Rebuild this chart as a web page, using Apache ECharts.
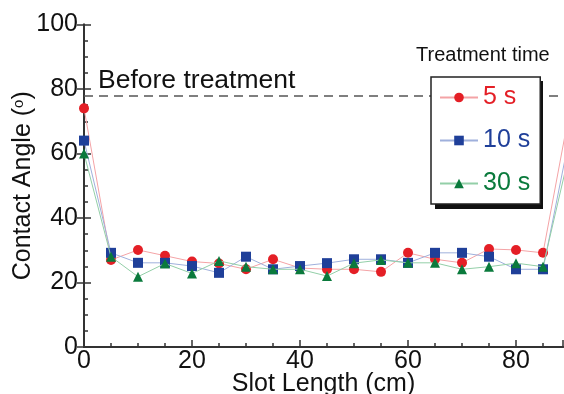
<!DOCTYPE html>
<html>
<head>
<meta charset="utf-8">
<script src="https://cdn.jsdelivr.net/npm/echarts@6/dist/echarts.min.js"></script>
<style>
  html, body { margin: 0; padding: 0; background: #fff; }
  #chart { width: 564px; height: 394px; }
</style>
</head>
<body>
<div id="chart"></div>
<script>
// Slot positions (cm) where the contact angle was measured
const slotLength = [0, 5, 10, 15, 20, 25, 30, 35, 40, 45, 50, 55, 60, 65, 70, 75, 80, 85, 90];
// Contact angle (deg) for each treatment time
const angle5s  = [74, 27.0, 30.1, 28.3, 26.5, 25.9, 24.1, 27.2, 24.5, 24.1, 24.1, 23.3, 29.2, 27.2, 26.1, 30.4, 30.1, 29.2, 74];
const angle10s = [64, 29.2, 26.1, 26.1, 25.1, 23.0, 28.0, 24.1, 25.1, 26.0, 27.2, 27.2, 26.1, 29.2, 29.2, 28.0, 24.1, 24.1, 66];
const angle30s = [60, 28.0, 21.8, 25.9, 22.8, 26.7, 24.9, 24.1, 24.1, 22.0, 26.0, 27.0, 26.1, 26.1, 24.1, 24.9, 26.0, 24.9, 61];
// Untreated reference angle
const beforeTreatment = 78;
const seriesNames = ['5 s', '10 s', '30 s'];
const xTicks = [0, 20, 40, 60, 80];
const yTicks = [0, 20, 40, 60, 80, 100];

const FONT = '"Liberation Sans", Arial, sans-serif';
const colors = ['#e41f26', '#1f3f99', '#0a7a3c'];
const lineColors = ['#f4a3a6', '#9fb0dc', '#93cfa8'];

function pairs(ys) { return slotLength.map((x, i) => [x, ys[i]]); }

const chart = echarts.init(document.getElementById('chart'), null, { renderer: 'canvas' });

const axisLine = { show: true, lineStyle: { color: '#333', width: 2 } };
const tickStyle = { color: '#333', width: 1.5 };

// Legend box geometry (shared by the legend and its drop shadow)
const LEG = { x: 431, y: 77, w: 108, h: 128 };

const option = {
  animation: false,
  textStyle: { fontFamily: FONT },
  grid: { left: 84, top: 24.5, width: 479, height: 322.5, containLabel: false, outerBoundsMode: 'none' },
  xAxis: [{
    type: 'value', min: 0, max: 88.7, interval: 20,
    name: 'Slot Length (cm)', nameLocation: 'middle', nameGap: 25, nameMoveOverlap: false,
    nameTextStyle: { fontSize: 25, color: '#111', fontFamily: FONT },
    axisLine: axisLine,
    axisTick: { show: true, inside: true, length: 7, lineStyle: tickStyle },
    minorTick: { show: true, splitNumber: 4, length: 4, lineStyle: tickStyle },
    axisLabel: {
      fontSize: 25, color: '#111', margin: 2, showMaxLabel: false, fontFamily: FONT,
      formatter: v => xTicks.includes(v) ? String(v) : ''
    },
    splitLine: { show: false }
  }, {
    type: 'value', position: 'top', min: 0, max: 88.7, interval: 20,
    axisLine: axisLine, axisTick: { show: false }, axisLabel: { show: false }, splitLine: { show: false }
  }],
  yAxis: [{
    type: 'value', min: 0, max: 100, interval: 20,
    name: 'Contact Angle ({sup|o})', nameLocation: 'middle', nameGap: 48, nameRotate: 90, nameMoveOverlap: false,
    nameTextStyle: {
      fontSize: 25, color: '#111', fontFamily: FONT,
      rich: { sup: { fontSize: 15, color: '#111', verticalAlign: 'top', padding: [0, 0, 8, 0], fontFamily: FONT } }
    },
    axisLine: axisLine,
    axisTick: { show: true, inside: true, length: 7, lineStyle: tickStyle },
    minorTick: { show: true, splitNumber: 4, length: 4, lineStyle: tickStyle },
    axisLabel: {
      fontSize: 25, color: '#111', margin: 6, fontFamily: FONT,
      formatter: v => yTicks.includes(v) ? String(v) : ''
    },
    splitLine: { show: false }
  }, {
    type: 'value', position: 'right', min: 0, max: 100, interval: 20,
    axisLine: axisLine,
    axisTick: { show: true, inside: true, length: 7, lineStyle: tickStyle },
    axisLabel: { show: false }, splitLine: { show: false }
  }],
  legend: {
    orient: 'vertical', left: LEG.x, top: LEG.y,
    data: seriesNames.map((n, i) => ({ name: n, textStyle: { color: colors[i] } })),
    itemWidth: 38, itemHeight: 12, itemGap: 18,
    padding: [8, 10, 8, 8],
    backgroundColor: '#fff', borderColor: '#222', borderWidth: 1.5,
    textStyle: { fontSize: 25, fontFamily: FONT },
    z: 10
  },
  graphic: [{
    // drop shadow behind the legend box
    type: 'rect', z: 9,
    shape: { x: LEG.x + 4, y: LEG.y + 4, width: LEG.w, height: LEG.h },
    style: { fill: '#111' }
  }, {
    type: 'text', left: 416, top: 45, z: 10,
    style: { text: 'Treatment time', fontSize: 20, fill: '#111', fontFamily: FONT }
  }],
  series: [
    {
      name: seriesNames[0], type: 'line', data: pairs(angle5s),
      symbol: 'circle', symbolSize: 10, clip: true, z: 3,
      itemStyle: { color: colors[0] },
      lineStyle: { color: lineColors[0], width: 1 },
      markLine: {
        silent: true, symbol: 'none', animation: false,
        lineStyle: { color: '#555', width: 1.5, type: [9, 6] },
        label: {
          show: true, position: 'insideStartTop', formatter: 'Before treatment',
          fontSize: 26.5, color: '#111', fontFamily: FONT, distance: [14, 1]
        },
        data: [{ yAxis: beforeTreatment }]
      }
    },
    {
      name: seriesNames[1], type: 'line', data: pairs(angle10s),
      symbol: 'rect', symbolSize: 10, clip: true, z: 4,
      itemStyle: { color: colors[1] },
      lineStyle: { color: lineColors[1], width: 1 }
    },
    {
      name: seriesNames[2], type: 'line', data: pairs(angle30s),
      symbol: 'triangle', symbolSize: 10, clip: true, z: 5,
      itemStyle: { color: colors[2] },
      lineStyle: { color: lineColors[2], width: 1 }
    }
  ]
};

chart.setOption(option);
</script>
</body>
</html>
